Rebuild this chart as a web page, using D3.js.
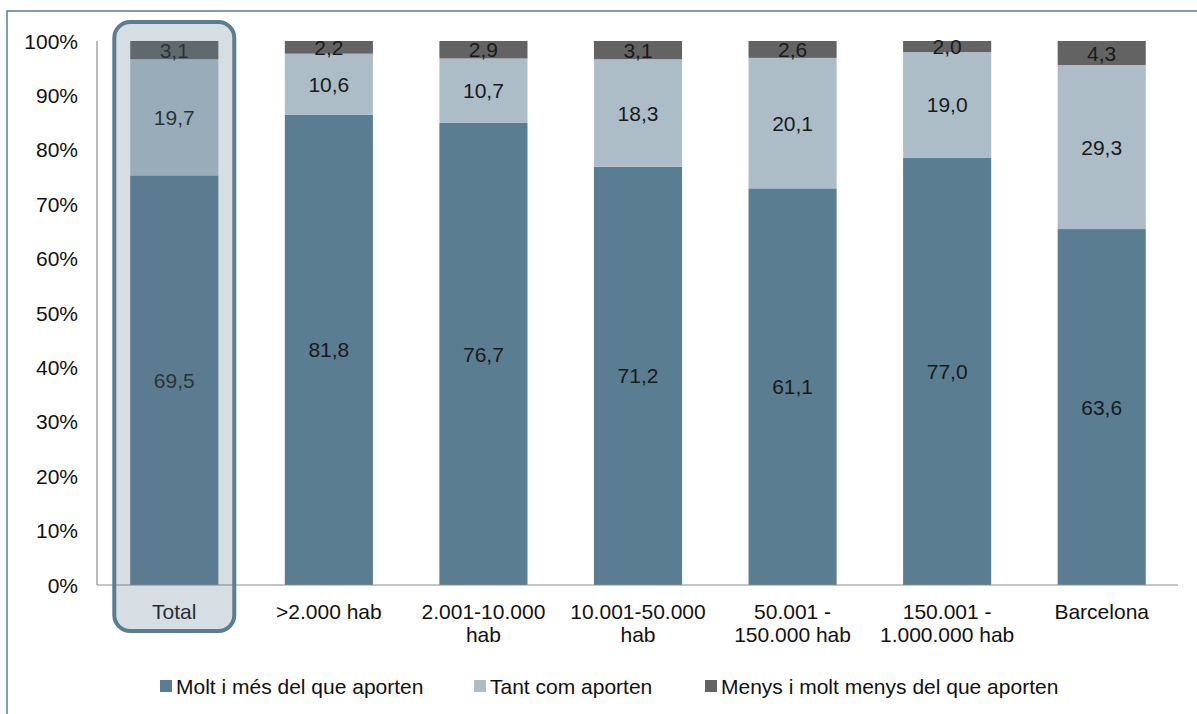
<!DOCTYPE html>
<html>
<head>
<meta charset="utf-8">
<script src="https://cdn.jsdelivr.net/npm/d3@7"></script>
<style>
  body { margin: 0; background: #fff; }
  svg { display: block; font-family: Arial, "Liberation Sans", sans-serif; }
</style>
</head>
<body>
<svg id="chart" width="1197" height="714"></svg>
<script>
// categories and series (values as printed in the bars, stacks normalised to 100%)
const categories = ["Total", ">2.000 hab", "2.001-10.000 hab", "10.001-50.000 hab",
                    "50.001 - 150.000 hab", "150.001 - 1.000.000 hab", "Barcelona"];
const catLines = [["Total"], [">2.000 hab"], ["2.001-10.000", "hab"], ["10.001-50.000", "hab"],
                  ["50.001 -", "150.000 hab"], ["150.001 -", "1.000.000 hab"], ["Barcelona"]];
const seriesNames = ["Molt i més del que aporten", "Tant com aporten", "Menys i molt menys del que aporten"];
const molt  = [69.5, 81.8, 76.7, 71.2, 61.1, 77.0, 63.6];
const tant  = [19.7, 10.6, 10.7, 18.3, 20.1, 19.0, 29.3];
const menys = [3.1, 2.2, 2.9, 3.1, 2.6, 2.0, 4.3];
const yTicks = [0, 0.1, 0.2, 0.3, 0.4, 0.5, 0.6, 0.7, 0.8, 0.9, 1];
const colors = ["#5b7d91", "#adbdc8", "#636363"];

const svg = d3.select("#chart");
const m = { top: 41, right: 18, bottom: 129, left: 97 };
const W = 1197, H = 714;
const w = W - m.left - m.right, h = H - m.top - m.bottom;
const fs = 21;

// outer frame
svg.append("rect")
    .attr("x", 7).attr("y", 11).attr("width", W).attr("height", H)
    .attr("fill", "none").attr("stroke", "#5b7d91").attr("stroke-width", 1.5);

const g = svg.append("g").attr("transform", `translate(${m.left},${m.top})`);

const x = d3.scaleBand().domain(categories).range([0, w]).paddingInner(0.43).paddingOuter(0.215);
const y = d3.scaleLinear().domain([0, 1]).range([h, 0]);

const rows = categories.map((c, i) => {
    const vals = [molt[i], tant[i], menys[i]];
    return { cat: c, vals, sum: d3.sum(vals) };
});

const stacked = d3.stack().keys([0, 1, 2]).value((d, k) => d.vals[k] / d.sum)(rows);

// bars + value labels
stacked.forEach((layer, k) => {
    g.append("g").selectAll("rect")
        .data(layer)
        .join("rect")
        .attr("x", d => x(d.data.cat))
        .attr("width", x.bandwidth())
        .attr("y", d => y(d[1]))
        .attr("height", d => y(d[0]) - y(d[1]))
        .attr("fill", colors[k]);

    g.append("g").selectAll("text")
        .data(layer)
        .join("text")
        .attr("x", d => x(d.data.cat) + x.bandwidth() / 2)
        .attr("y", d => y((d[0] + d[1]) / 2))
        .attr("dy", "0.36em")
        .attr("text-anchor", "middle")
        .attr("font-size", fs)
        .attr("fill", "#1a1a1a")
        .text(d => d3.format(".1f")(d.data.vals[k]).replace(".", ","));
});

// axis lines
g.append("line").attr("x1", 0).attr("x2", 0).attr("y1", 0).attr("y2", h)
    .attr("stroke", "#8c8c8c").attr("stroke-width", 1.2);
g.append("line").attr("x1", 0).attr("x2", w - 1).attr("y1", h).attr("y2", h)
    .attr("stroke", "#8c8c8c").attr("stroke-width", 1.2);

// y tick labels
g.append("g").selectAll("text")
    .data(yTicks)
    .join("text")
    .attr("x", -19)
    .attr("y", d => y(d))
    .attr("dy", "0.36em")
    .attr("text-anchor", "end")
    .attr("font-size", fs)
    .attr("fill", "#111")
    .text(d => d3.format(".0%")(d));

// category labels
g.append("g").selectAll("text")
    .data(categories)
    .join("text")
    .attr("y", h + 34)
    .attr("text-anchor", "middle")
    .attr("font-size", fs)
    .attr("fill", "#111")
    .each(function (d, i) {
        d3.select(this).selectAll("tspan")
            .data(catLines[i])
            .join("tspan")
            .attr("x", x(d) + x.bandwidth() / 2)
            .attr("dy", (t, j) => j === 0 ? 0 : 23)
            .text(t => t);
    });

// highlight around Total
const cx = x("Total") + x.bandwidth() / 2;
g.append("rect")
    .attr("x", cx - 60).attr("y", -19)
    .attr("width", 120).attr("height", 609)
    .attr("rx", 16)
    .attr("fill", "rgba(91,125,145,0.25)")
    .attr("stroke", "#5b7d91").attr("stroke-width", 4);

// legend
const legendX = [160, 474, 705];
const lg = svg.append("g").selectAll("g")
    .data(seriesNames)
    .join("g")
    .attr("transform", (d, i) => `translate(${legendX[i]},686)`);
lg.append("rect").attr("x", 0).attr("y", -6).attr("width", 12).attr("height", 12)
    .attr("fill", (d, i) => colors[i]);
lg.append("text").attr("x", 16).attr("dy", "0.36em").attr("font-size", fs)
    .attr("fill", "#111").text(d => d);
</script>
</body>
</html>
